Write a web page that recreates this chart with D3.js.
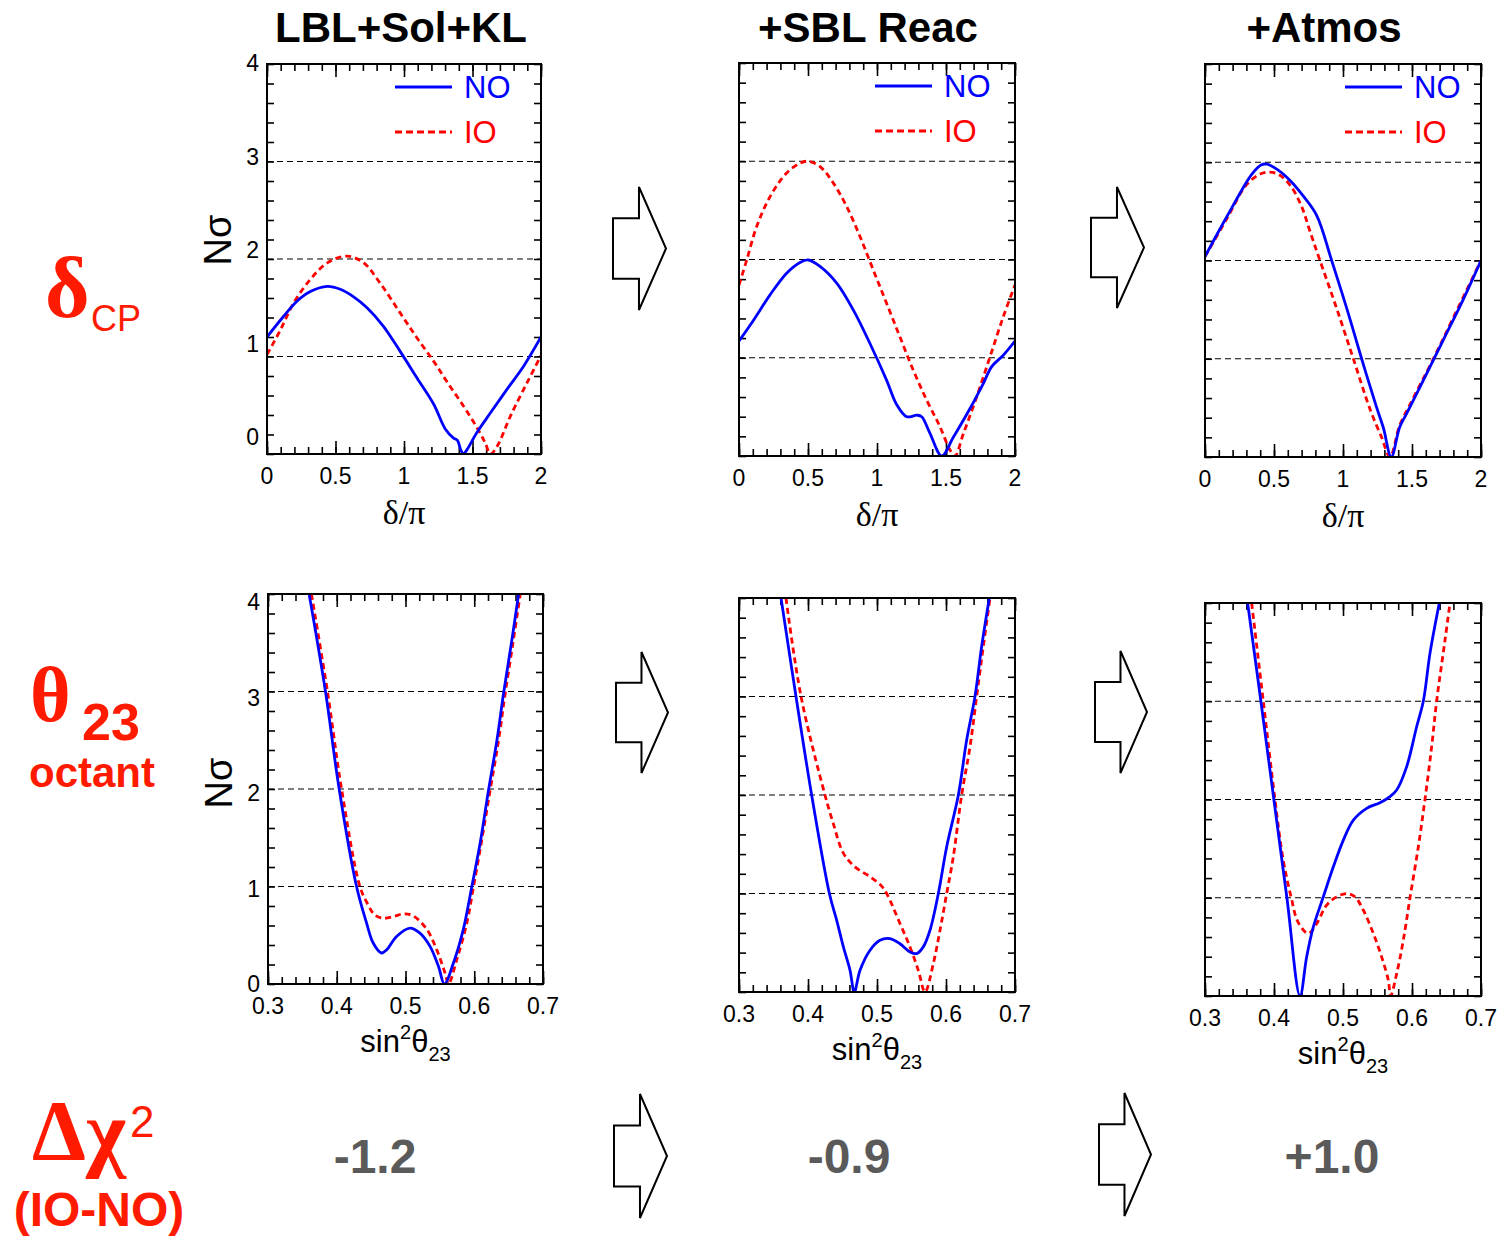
<!DOCTYPE html>
<html>
<head>
<meta charset="utf-8">
<script src="https://cdn.jsdelivr.net/npm/d3@7"></script>
<style>
  body { margin: 0; background: #fff; }
  text { font-family: "Liberation Sans", Arial, Helvetica, sans-serif; }
  .serif { font-family: "Liberation Serif", "Times New Roman", serif; }
</style>
</head>
<body>
<div id="chart"></div>
<script>
// ---- chart values ----
var columnTitles = ['LBL+Sol+KL', '+SBL Reac', '+Atmos'];
var dchi2Values = ['-1.2', '-0.9', '+1.0'];
var sigmaLines = [1, 2, 3];
var yTickLabels = [0, 1, 2, 3, 4];
var deltaTickLabels = [0, 0.5, 1, 1.5, 2];
var sinTickLabels = [0.3, 0.4, 0.5, 0.6, 0.7];
var legendNames = ['NO', 'IO'];

// delta_CP curves, [delta/pi, N sigma]
var cpLblNO = [[0,1.2],[0.12,1.41],[0.22,1.57],[0.32,1.67],[0.44,1.72],[0.535,1.69],[0.63,1.615],[0.73,1.5],[0.85,1.31],[0.973,1.05],[1.095,0.78],[1.217,0.51],[1.3,0.26],[1.36,0.165],[1.39,0.14],[1.415,0.04],[1.435,0],[1.46,0.045],[1.53,0.215],[1.63,0.42],[1.75,0.66],[1.873,0.9],[2,1.2]];
var cpLblIO = [[0,1.02],[0.097,1.27],[0.195,1.55],[0.316,1.79],[0.44,1.96],[0.584,2.03],[0.706,1.96],[0.827,1.75],[0.973,1.445],[1.095,1.19],[1.217,0.95],[1.314,0.74],[1.435,0.49],[1.533,0.27],[1.594,0.11],[1.63,0],[1.68,0.08],[1.776,0.386],[1.898,0.73],[2,1.01]];
var cpSblNO = [[0,1.17],[0.104,1.38],[0.225,1.64],[0.345,1.86],[0.442,1.97],[0.502,1.995],[0.587,1.93],[0.708,1.76],[0.829,1.485],[0.949,1.145],[1.07,0.77],[1.14,0.53],[1.215,0.4],[1.29,0.415],[1.324,0.4],[1.384,0.23],[1.469,0],[1.553,0.19],[1.674,0.483],[1.77,0.737],[1.83,0.907],[1.915,1.026],[2,1.17]];
var cpSblIO = [[0,1.74],[0.056,1.995],[0.128,2.335],[0.225,2.64],[0.345,2.88],[0.442,2.98],[0.5,3.0],[0.587,2.946],[0.684,2.777],[0.78,2.54],[0.877,2.233],[0.973,1.893],[1.07,1.553],[1.166,1.213],[1.263,0.873],[1.36,0.568],[1.457,0.296],[1.53,0.058],[1.565,0],[1.626,0.228],[1.722,0.6],[1.819,1.01],[1.915,1.417],[2,1.74]];
var cpAtmNO = [[0,2.04],[0.16,2.45],[0.34,2.88],[0.41,2.975],[0.45,2.98],[0.52,2.93],[0.62,2.81],[0.71,2.66],[0.809,2.46],[0.918,2.0],[1.03,1.5],[1.135,1.0],[1.24,0.52],[1.292,0.3],[1.35,0],[1.41,0.3],[1.46,0.44],[1.6,0.83],[1.73,1.2],[1.87,1.6],[2,2.0]];
var cpAtmIO = [[0,2.04],[0.16,2.43],[0.3,2.77],[0.4,2.88],[0.47,2.9],[0.54,2.87],[0.62,2.76],[0.7,2.55],[0.76,2.3],[0.833,2.0],[0.95,1.53],[1.075,1.0],[1.2,0.47],[1.28,0.2],[1.34,0],[1.41,0.32],[1.48,0.52],[1.655,1.0],[1.8,1.42],[2,2.0]];

// theta_23 octant curves, [sin^2 theta23, N sigma]
var octLblNO = [[0.3598,4],[0.3836,3.0],[0.4035,2.0],[0.4288,1.0],[0.4434,0.625],[0.453,0.42],[0.465,0.318],[0.4725,0.35],[0.487,0.488],[0.5066,0.574],[0.521,0.522],[0.5357,0.386],[0.548,0.18],[0.5566,0],[0.5697,0.215],[0.584,0.557],[0.5965,1.0],[0.6086,1.445],[0.6208,1.99],[0.633,2.5],[0.6426,2.98],[0.6548,3.53],[0.6645,4]];
var octLblIO = [[0.3632,4],[0.3865,3.0],[0.407,2.0],[0.4337,1.0],[0.445,0.82],[0.455,0.71],[0.467,0.675],[0.482,0.69],[0.497,0.72],[0.511,0.7],[0.531,0.56],[0.5455,0.35],[0.5576,0.11],[0.5625,0],[0.5746,0.25],[0.5892,0.625],[0.599,1.0],[0.611,1.48],[0.6232,1.99],[0.6354,2.5],[0.645,2.98],[0.657,3.53],[0.667,4]];
var octSblNO = [[0.3609,4],[0.3826,3.0],[0.4053,2.0],[0.431,1.0],[0.4415,0.73],[0.4512,0.46],[0.4609,0.22],[0.4671,0],[0.4754,0.22],[0.4899,0.424],[0.5043,0.525],[0.5188,0.542],[0.5333,0.49],[0.5478,0.407],[0.5575,0.39],[0.5671,0.458],[0.5768,0.627],[0.5889,1.0],[0.601,1.475],[0.6179,2.0],[0.63,2.56],[0.642,3.0],[0.6517,3.51],[0.6628,4]];
var octSblIO = [[0.3681,4],[0.3899,3.0],[0.4246,2.0],[0.4367,1.71],[0.4512,1.41],[0.468,1.27],[0.49,1.17],[0.506,1.08],[0.514,1.0],[0.5333,0.695],[0.5478,0.458],[0.5599,0.22],[0.5696,0],[0.5816,0.288],[0.5913,0.627],[0.601,1.0],[0.6106,1.373],[0.6227,2.0],[0.6348,2.49],[0.6444,3.0],[0.6541,3.51],[0.6638,4]];
var octAtmNO = [[0.3618,4],[0.381,3.0],[0.3998,2.0],[0.4187,1.0],[0.4377,0],[0.4473,0.398],[0.457,0.703],[0.4715,1.01],[0.486,1.315],[0.5005,1.587],[0.515,1.79],[0.5343,1.91],[0.5536,1.968],[0.5681,2.03],[0.5778,2.097],[0.5923,2.335],[0.6068,2.743],[0.6164,3.0],[0.6261,3.49],[0.6396,4]];
var octAtmIO = [[0.3676,4],[0.3845,3.0],[0.4014,2.0],[0.413,1.4],[0.425,1.0],[0.435,0.75],[0.4498,0.636],[0.4618,0.737],[0.4763,0.924],[0.4908,1.009],[0.5053,1.043],[0.5174,1.009],[0.5295,0.873],[0.544,0.636],[0.556,0.398],[0.5657,0.16],[0.569,0],[0.5778,0.228],[0.5874,0.568],[0.5971,1.0],[0.6092,1.519],[0.6188,2.0],[0.6285,2.539],[0.6357,3.0],[0.6478,3.62],[0.6551,4]];

// ---- layout ----
var svgWidth = 1499;
var svgHeight = 1237;
var red = '#ff1a00';

var svg = d3.select('#chart')
  .append('svg')
  .attr('width', svgWidth)
  .attr('height', svgHeight);

// panel boxes (pixels) and per-panel legend placement
var panels = [
  {x0: 267, x1: 541, y0: 64, y1: 454, row: 0, col: 0, no: cpLblNO, io: cpLblIO, legX: 395},
  {x0: 739, x1: 1015, y0: 63, y1: 456, row: 0, col: 1, no: cpSblNO, io: cpSblIO, legX: 875},
  {x0: 1205, x1: 1481, y0: 64, y1: 457, row: 0, col: 2, no: cpAtmNO, io: cpAtmIO, legX: 1345},
  {x0: 268, x1: 543, y0: 594, y1: 984, row: 1, col: 0, no: octLblNO, io: octLblIO},
  {x0: 739, x1: 1015, y0: 598, y1: 992, row: 1, col: 1, no: octSblNO, io: octSblIO},
  {x0: 1205, x1: 1481, y0: 603, y1: 996, row: 1, col: 2, no: octAtmNO, io: octAtmIO}
];

var arrows = [
  [613, 187, 53, 123], [1091, 187, 53, 121],
  [616, 652, 52, 121], [1095, 651, 52, 122],
  [614, 1094, 53, 124], [1099, 1093, 52, 123]
];

var titleX = [401, 868, 1324];
var dchiX = [375, 849, 1332];

// column titles
svg.selectAll('.col-title')
  .data(columnTitles)
  .enter()
  .append('text')
  .attr('class', 'col-title')
  .attr('x', (d, i) => titleX[i])
  .attr('y', 42)
  .attr('text-anchor', 'middle')
  .attr('font-size', 42)
  .attr('font-weight', 'bold')
  .text(d => d);

// draw one panel
function drawPanel(p, idx) {
  var isCP = p.row === 0;
  var xDomain = isCP ? [0, 2] : [0.3, 0.7];
  var x = d3.scaleLinear().domain(xDomain).range([p.x0, p.x1]);
  var y = d3.scaleLinear().domain([0, 4]).range([p.y1, p.y0]);
  var g = svg.append('g');

  var clipId = 'clip' + idx;
  svg.append('clipPath').attr('id', clipId)
    .append('rect')
    .attr('x', p.x0).attr('y', p.y0)
    .attr('width', p.x1 - p.x0).attr('height', p.y1 - p.y0);

  // tick values
  var xStep = isCP ? 0.1 : 0.02;
  var xMajorStep = isCP ? 0.5 : 0.1;
  var nx = Math.round((xDomain[1] - xDomain[0]) / xStep);
  var xMinor = d3.range(nx + 1).map(i => xDomain[0] + i * xStep);
  var xMajor = xMinor.filter((v, i) => (i % Math.round(xMajorStep / xStep)) === 0);
  var yMinor = d3.range(21).map(i => i * 0.2);

  function tickAxis(axisFn, scale, vals, size, transform) {
    g.append('g')
      .attr('transform', transform)
      .call(axisFn(scale).tickValues(vals).tickSize(size).tickSizeOuter(0).tickFormat(''))
      .call(s => s.select('.domain').remove())
      .call(s => s.selectAll('line').attr('stroke', '#000').attr('stroke-width', 1.6));
  }
  tickAxis(d3.axisBottom, x, xMinor, -7, `translate(0,${p.y1})`);
  tickAxis(d3.axisBottom, x, xMajor, -13, `translate(0,${p.y1})`);
  tickAxis(d3.axisTop, x, xMinor, -7, `translate(0,${p.y0})`);
  tickAxis(d3.axisTop, x, xMajor, -13, `translate(0,${p.y0})`);
  tickAxis(d3.axisLeft, y, yMinor, -7, `translate(${p.x0},0)`);
  tickAxis(d3.axisRight, y, yMinor, -7, `translate(${p.x1},0)`);

  // N sigma reference lines
  g.selectAll('.sig')
    .data(sigmaLines)
    .enter()
    .append('line')
    .attr('x1', p.x0).attr('x2', p.x1)
    .attr('y1', d => y(d)).attr('y2', d => y(d))
    .attr('stroke', '#000')
    .attr('stroke-width', 1.2)
    .attr('stroke-dasharray', '6,4');

  // curves
  var line = d3.line()
    .x(d => x(d[0]))
    .y(d => y(d[1]))
    .curve(d3.curveCatmullRom.alpha(0.5));

  var curves = g.append('g').attr('clip-path', `url(#${clipId})`);
  curves.append('path')
    .datum(p.io)
    .attr('d', line)
    .attr('fill', 'none')
    .attr('stroke', '#ff0000')
    .attr('stroke-width', 2.8)
    .attr('stroke-dasharray', '6,4');
  curves.append('path')
    .datum(p.no)
    .attr('d', line)
    .attr('fill', 'none')
    .attr('stroke', '#0000ff')
    .attr('stroke-width', 2.8);

  // frame
  g.append('rect')
    .attr('x', p.x0).attr('y', p.y0)
    .attr('width', p.x1 - p.x0).attr('height', p.y1 - p.y0)
    .attr('fill', 'none')
    .attr('stroke', '#000')
    .attr('stroke-width', 2);

  // x tick labels
  var xLabels = isCP ? deltaTickLabels : sinTickLabels;
  g.selectAll('.xl')
    .data(xLabels)
    .enter()
    .append('text')
    .attr('x', d => x(d))
    .attr('y', p.y1 + 22)
    .attr('dy', '0.36em')
    .attr('text-anchor', 'middle')
    .attr('font-size', 23)
    .text(d => String(d));

  // x axis title
  if (isCP) {
    g.append('text')
      .attr('class', 'serif')
      .attr('x', (p.x0 + p.x1) / 2)
      .attr('y', p.y1 + 70)
      .attr('text-anchor', 'middle')
      .attr('font-size', 34)
      .text('δ/π');
  } else {
    var t = g.append('text')
      .attr('x', (p.x0 + p.x1) / 2)
      .attr('y', p.y1 + 68)
      .attr('text-anchor', 'middle')
      .attr('font-size', 31);
    t.append('tspan').text('sin');
    t.append('tspan').attr('font-size', 20).attr('dy', -13).text('2');
    t.append('tspan').attr('dy', 13).text('θ');
    t.append('tspan').attr('font-size', 20).attr('dy', 9).text('23');
  }

  // y labels (first column only)
  if (p.col === 0) {
    var labelY = isCP
      ? d3.scaleLinear().domain([0, 4]).range([p.y1 - 17, p.y0 - 1])
      : d3.scaleLinear().domain([0, 4]).range([p.y1, p.y0 + 8]);
    g.selectAll('.yl')
      .data(yTickLabels)
      .enter()
      .append('text')
      .attr('x', p.x0 - 8)
      .attr('y', d => labelY(d))
      .attr('dy', '0.36em')
      .attr('text-anchor', 'end')
      .attr('font-size', 23)
      .text(d => d);

    g.append('text')
      .attr('transform', `translate(${p.x0 - 36}, ${(p.y0 + p.y1) / 2 + (isCP ? -19 : -6)}) rotate(-90)`)
      .attr('text-anchor', 'middle')
      .attr('font-size', 38)
      .text('Nσ');
  }

  // legend (top row)
  if (isCP) {
    var legY = [p.y0 + 23, p.y0 + 68];
    var legStyles = [
      {stroke: '#0000ff', dash: null, color: '#0000ff'},
      {stroke: '#ff0000', dash: '7,4', color: '#ff0000'}
    ];
    legendNames.forEach(function(name, i) {
      g.append('line')
        .attr('x1', p.legX).attr('x2', p.legX + 57)
        .attr('y1', legY[i]).attr('y2', legY[i])
        .attr('stroke', legStyles[i].stroke)
        .attr('stroke-width', 2.8)
        .attr('stroke-dasharray', legStyles[i].dash);
      g.append('text')
        .attr('x', p.legX + 69)
        .attr('y', legY[i])
        .attr('dy', '0.36em')
        .attr('font-size', 31)
        .attr('fill', legStyles[i].color)
        .text(name);
    });
  }
}

panels.forEach(drawPanel);

// block arrows between columns
arrows.forEach(function(a) {
  var ax = a[0], ay = a[1], w = a[2], h = a[3];
  var bx = ax + w * 0.49;
  var pts = [
    [ax, ay + h * 0.255], [bx, ay + h * 0.255], [bx, ay],
    [ax + w, ay + h * 0.5],
    [bx, ay + h], [bx, ay + h * 0.745], [ax, ay + h * 0.745]
  ];
  svg.append('path')
    .attr('d', d3.line()(pts) + 'Z')
    .attr('fill', '#fff')
    .attr('stroke', '#000')
    .attr('stroke-width', 2);
});

// row labels (red)
var dcp = svg.append('text').attr('fill', red);
dcp.append('tspan').attr('class', 'serif').attr('x', 45).attr('y', 317)
  .attr('font-size', 86).attr('font-weight', 'bold').text('δ');
dcp.append('tspan').attr('x', 91).attr('y', 331).attr('font-size', 36).text('CP');

var th = svg.append('text').attr('fill', red);
th.append('tspan').attr('class', 'serif').attr('x', 30).attr('y', 721)
  .attr('font-size', 78).attr('font-weight', 'bold').text('θ');
th.append('tspan').attr('x', 82).attr('y', 740).attr('font-size', 52).attr('font-weight', 'bold').text('23');

svg.append('text')
  .attr('x', 92).attr('y', 787)
  .attr('text-anchor', 'middle')
  .attr('font-size', 42)
  .attr('font-weight', 'bold')
  .attr('fill', red)
  .text('octant');

var dc = svg.append('text').attr('fill', red);
dc.append('tspan').attr('class', 'serif').attr('x', 32).attr('y', 1160)
  .attr('font-size', 86).attr('font-weight', 'bold').text('Δχ');
dc.append('tspan').attr('x', 130).attr('y', 1137).attr('font-size', 44).text('2');

svg.append('text')
  .attr('x', 99).attr('y', 1226)
  .attr('text-anchor', 'middle')
  .attr('font-size', 48)
  .attr('font-weight', 'bold')
  .attr('fill', red)
  .text('(IO-NO)');

// delta chi^2 values
svg.selectAll('.dchi')
  .data(dchi2Values)
  .enter()
  .append('text')
  .attr('x', (d, i) => dchiX[i])
  .attr('y', 1173)
  .attr('text-anchor', 'middle')
  .attr('font-size', 48)
  .attr('font-weight', 'bold')
  .attr('fill', '#5a5a5a')
  .text(d => d);
</script>
</body>
</html>
